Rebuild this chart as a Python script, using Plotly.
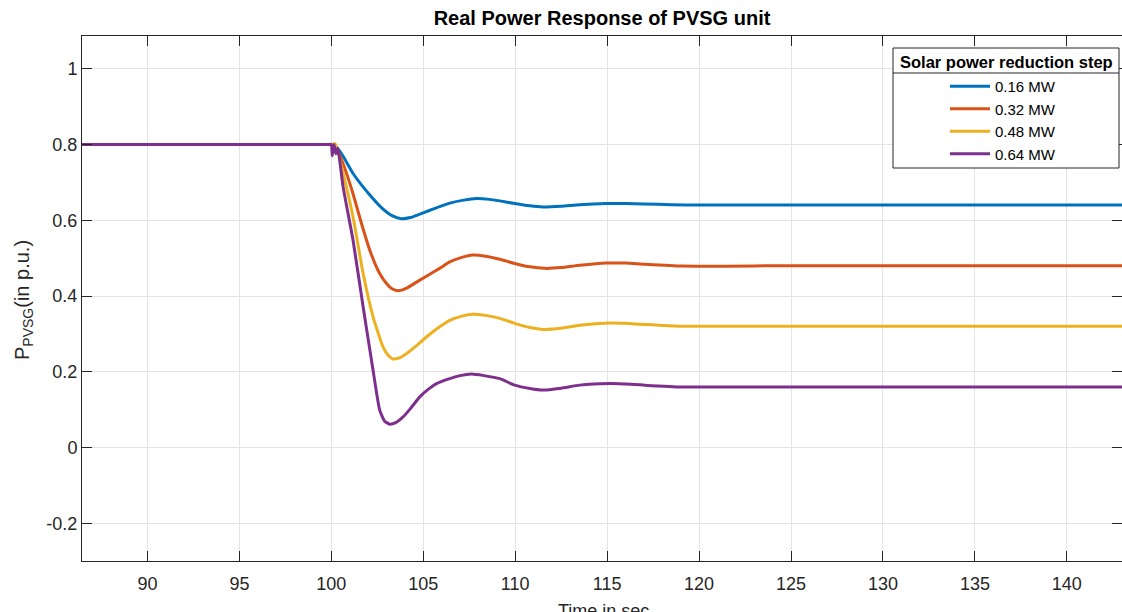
import plotly.graph_objects as go

# ---- data ----
series_names = ["0.16 MW", "0.32 MW", "0.48 MW", "0.64 MW"]
series_colors = ["#0072BD", "#D95319", "#EDB120", "#7E2F8E"]

t_016 = [86.0, 90.0, 95.0, 99.0, 99.9, 100.0, 100.2, 100.6, 101.2, 102.0, 102.8, 103.3, 103.8,
         104.3, 104.81, 105.4, 105.89, 106.44, 107.2, 107.9, 108.6, 109.16, 109.97, 110.8,
         111.51, 112.5, 113.51, 114.96, 116.0, 117.0, 118.5, 120.0, 125.0, 130.0, 143.5]
p_016 = [0.800, 0.800, 0.800, 0.800, 0.800, 0.800, 0.797, 0.772, 0.722, 0.672, 0.630, 0.612, 0.604,
         0.607, 0.616, 0.627, 0.636, 0.645, 0.653, 0.657, 0.655, 0.651, 0.644, 0.638,
         0.635, 0.637, 0.641, 0.644, 0.644, 0.643, 0.641, 0.640, 0.640, 0.640, 0.640]

t_032 = [86.0, 90.0, 95.0, 99.0, 99.9, 100.0, 100.2, 100.64, 101.18, 101.6, 102.09, 102.6, 103.0,
         103.3, 103.63, 104.1, 104.81, 105.4, 105.89, 106.44, 107.1, 107.7, 108.4, 109.16,
         109.97, 110.8, 111.6, 112.5, 113.51, 114.96, 116.0, 117.0, 119.1, 125.0, 143.5]
p_032 = [0.800, 0.800, 0.800, 0.800, 0.800, 0.800, 0.798, 0.749, 0.670, 0.598, 0.521, 0.462, 0.433,
         0.419, 0.414, 0.421, 0.442, 0.459, 0.473, 0.490, 0.502, 0.508, 0.505, 0.497,
         0.486, 0.477, 0.473, 0.475, 0.481, 0.487, 0.487, 0.484, 0.479, 0.480, 0.480]

t_048 = [86.0, 90.0, 95.0, 99.0, 99.9, 100.0, 100.2, 100.64, 101.18, 101.73, 102.27, 102.81,
         103.1, 103.36, 103.7, 104.08, 104.6, 105.17, 105.89, 106.44, 107.1, 107.7, 108.4,
         109.16, 109.97, 110.8, 111.51, 112.5, 113.51, 115.14, 116.0, 117.0, 119.1, 143.5]
p_048 = [0.800, 0.800, 0.800, 0.800, 0.800, 0.800, 0.802, 0.723, 0.609, 0.459, 0.345, 0.266,
         0.243, 0.234, 0.237, 0.248, 0.268, 0.292, 0.319, 0.336, 0.347, 0.352, 0.349,
         0.341, 0.328, 0.317, 0.312, 0.315, 0.323, 0.329, 0.328, 0.325, 0.320, 0.320]

t_064 = [86.0, 90.0, 95.0, 99.0, 99.9, 100.0, 100.05, 100.15, 100.25, 100.35, 100.64, 101.18,
         101.73, 102.27, 102.63, 102.9, 103.18, 103.5, 103.9, 104.3, 104.81, 105.3, 105.72,
         106.44, 107.0, 107.62, 108.3, 109.16, 109.97, 110.8, 111.51, 112.5, 113.51, 115.14,
         116.0, 117.0, 119.1, 125.0, 143.5]
p_064 = [0.800, 0.800, 0.800, 0.800, 0.800, 0.800, 0.770, 0.800, 0.775, 0.790, 0.688, 0.547,
         0.371, 0.204, 0.099, 0.070, 0.062, 0.066, 0.081, 0.103, 0.134, 0.155, 0.169,
         0.182, 0.190, 0.194, 0.190, 0.182, 0.165, 0.156, 0.152, 0.157, 0.165, 0.169,
         0.168, 0.165, 0.160, 0.160, 0.160]

x_ticks = [90, 95, 100, 105, 110, 115, 120, 125, 130, 135, 140]
y_ticks = [-0.2, 0, 0.2, 0.4, 0.6, 0.8, 1]
y_tick_text = ["-0.2", "0", "0.2", "0.4", "0.6", "0.8", "1"]

chart_title = "<b>Real Power Response of PVSG unit</b>"
x_title = "Time in sec"
y_title = "P<sub>PVSG</sub>(in p.u.)"
legend_title = "<b>Solar power reduction step</b>"

# ---- figure ----
W, H = 1122, 612
ML, MR, MT, MB = 82, 0, 36, 51
PW, PH = W - ML - MR, H - MT - MB


def px_x(p):
    return (p - ML) / PW


def px_y(p):
    return (H - MB - p) / PH


fig = go.Figure()
all_t = [t_016, t_032, t_048, t_064]
all_p = [p_016, p_032, p_048, p_064]
for name, color, tt, pp in zip(series_names, series_colors, all_t, all_p):
    fig.add_trace(go.Scatter(
        x=tt, y=pp, mode="lines", name=name,
        line=dict(color=color, width=3, shape="spline", smoothing=0.5),
    ))

axis_color = "#262626"
grid_color = "#e4e4e4"
font_family = "Liberation Sans, Arial, sans-serif"

# legend box geometry (pixels)
LB_L, LB_R, LB_T, LB_B, LB_SEP = 893, 1119, 48, 168, 73

fig.update_layout(
    width=W, height=H,
    margin=dict(l=ML, r=MR, t=MT, b=MB, autoexpand=False),
    paper_bgcolor="white", plot_bgcolor="white",
    font=dict(family=font_family, color=axis_color, size=18),
    title=dict(text=chart_title, x=(ML + PW / 2) / W, xanchor="center",
               y=1 - 18 / H, yanchor="middle", font=dict(size=20, color="black")),
    showlegend=True,
    legend=dict(
        x=px_x(945), xanchor="left", y=px_y(70), yanchor="top",
        bgcolor="rgba(0,0,0,0)", borderwidth=0,
        font=dict(size=15, color="black"),
        itemwidth=40, tracegroupgap=0,
    ),
)

fig.update_xaxes(
    range=[86.44, 143.0], tickvals=x_ticks, ticktext=[str(v) for v in x_ticks],
    showline=True, linecolor=axis_color, linewidth=1, mirror="ticks",
    ticks="inside", ticklen=10, tickcolor=axis_color, tickwidth=1,
    showgrid=True, gridcolor=grid_color, gridwidth=1, zeroline=False,
    tickfont=dict(size=18, color=axis_color), automargin=False, ticklabelstandoff=6,
)
fig.update_yaxes(
    range=[-0.299, 1.086], tickvals=y_ticks, ticktext=y_tick_text,
    showline=True, linecolor=axis_color, linewidth=1, mirror="ticks",
    ticks="inside", ticklen=10, tickcolor=axis_color, tickwidth=1,
    showgrid=True, gridcolor=grid_color, gridwidth=1, zeroline=False,
    tickfont=dict(size=18, color=axis_color), automargin=False,
)

# axis titles as text annotations
fig.add_annotation(text=x_title, xref="paper", yref="paper", x=px_x(603), y=px_y(611),
                   xanchor="center", yanchor="middle", showarrow=False,
                   font=dict(size=18, color=axis_color))
fig.add_annotation(text=y_title, xref="paper", yref="paper", x=px_x(23), y=px_y(300),
                   xanchor="center", yanchor="middle", showarrow=False, textangle=-90,
                   font=dict(size=20, color=axis_color))

# legend frame (white box with border), its title, and the separator under the title
fig.add_shape(type="rect", xref="paper", yref="paper", layer="above",
              x0=px_x(LB_L), x1=px_x(LB_R), y0=px_y(LB_B), y1=px_y(LB_T),
              fillcolor="white", line=dict(color=axis_color, width=1))
fig.add_shape(type="line", xref="paper", yref="paper", layer="above",
              x0=px_x(LB_L), x1=px_x(LB_R), y0=px_y(LB_SEP), y1=px_y(LB_SEP),
              line=dict(color=axis_color, width=1))
fig.add_annotation(text=legend_title, xref="paper", yref="paper",
                   x=px_x((LB_L + LB_R) / 2), y=px_y(62), xanchor="center", yanchor="middle",
                   showarrow=False, font=dict(size=16.5, color="black"))

fig.write_html("out.html", config={"displayModeBar": False},
               post_script="document.body.style.margin='0';")
